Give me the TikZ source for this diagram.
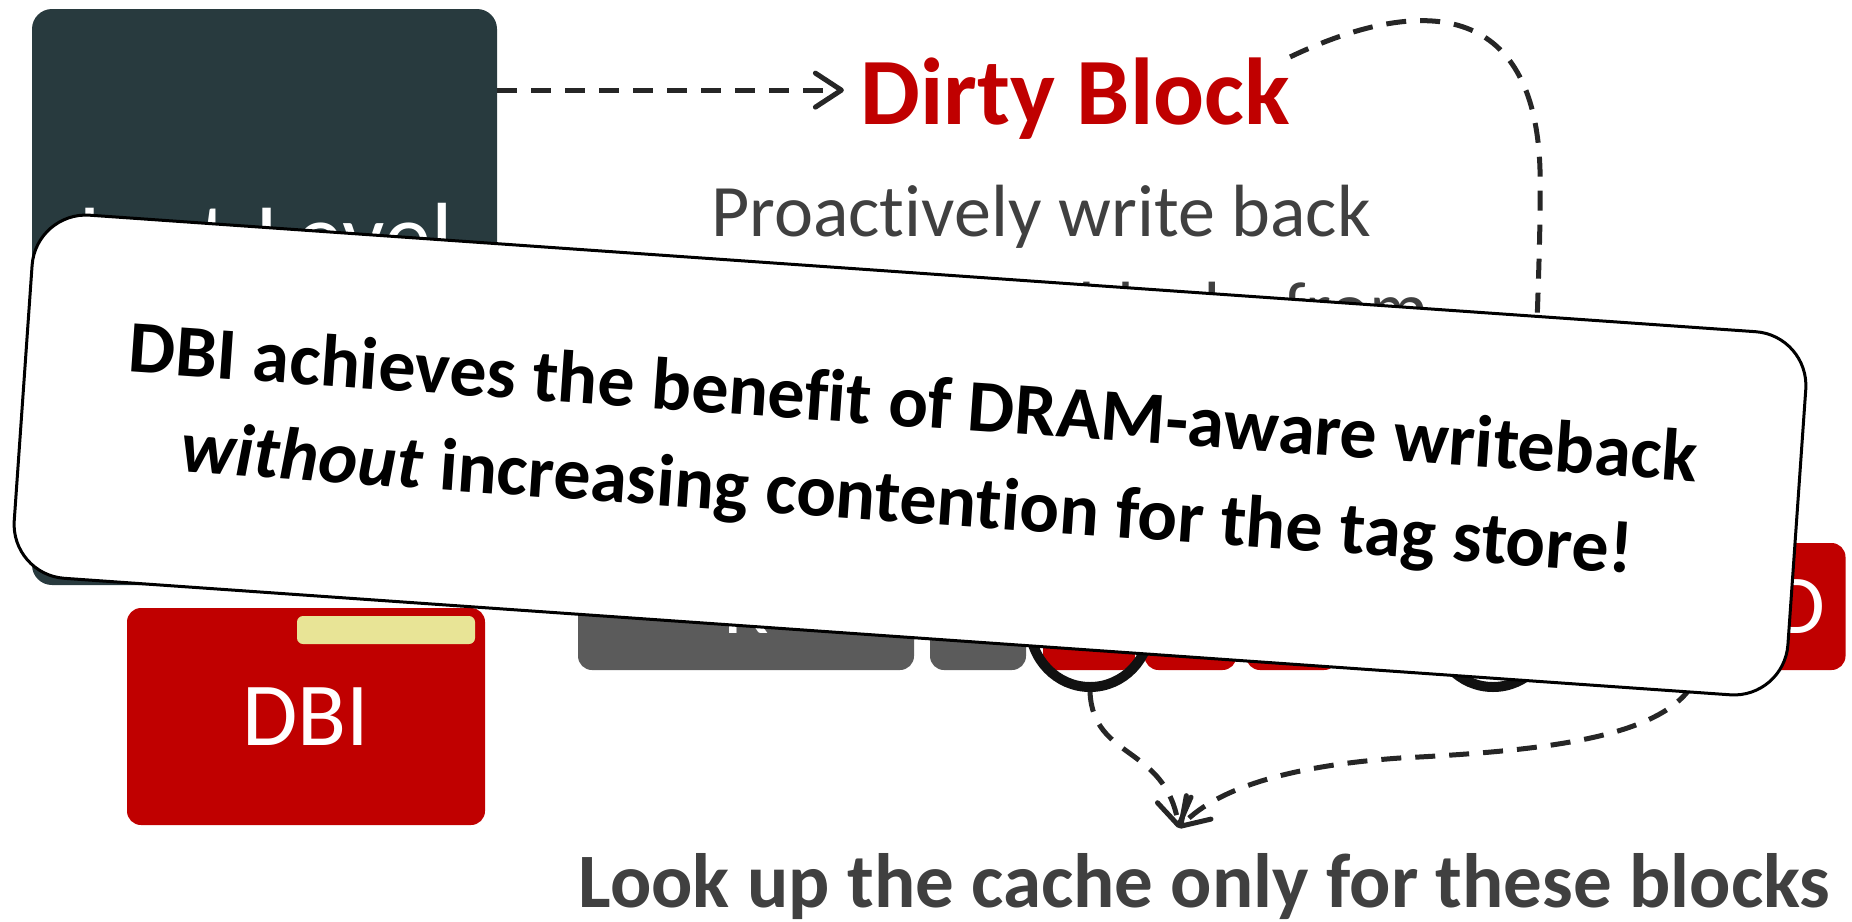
\documentclass[tikz,border=0pt]{standalone}
\usepackage{fontspec}
\setmainfont{Carlito}[Ligatures=NoCommon]
\usetikzlibrary{arrows.meta,shapes.geometric}
\definecolor{llcgray}{RGB}{40,58,62}
\definecolor{dbired}{RGB}{192,0,0}
\definecolor{txtgray}{RGB}{64,64,64}
\definecolor{blkgray}{RGB}{91,91,91}
\definecolor{barylw}{RGB}{232,228,150}
\definecolor{linegray}{RGB}{38,38,38}
\definecolor{ringblack}{RGB}{17,17,17}
\tikzset{
  conn/.style={draw=linegray, line width=2.5pt, dash pattern=on 10pt off 7pt},
  tipped/.style={-{Straight Barb[length=13pt,width=17pt,round]}},
  rowblk/.style={rounded corners=7pt, minimum height=63.5pt, inner sep=0pt,
    text=white, font=\fontsize{42}{50}\selectfont},
  grayblk/.style={rowblk, fill=blkgray},
  redblk/.style={rowblk, fill=dbired, minimum width=46pt},
  ring/.style={draw=ringblack, line width=5pt, ellipse, inner sep=0pt,
    minimum width=60pt, minimum height=62pt},
}
\begin{document}
\begin{tikzpicture}[x=0.5pt,y=-0.5pt]
\useasboundingbox (0,0) rectangle (1852,921);

% last-level cache
\node[fill=llcgray, rounded corners=10pt, minimum width=232.5pt,
  minimum height=288pt, inner sep=0pt] (llc) at (264.5,297) {};
\node[anchor=north, inner sep=0pt, text=white, align=center,
  font=\fontsize{47}{57}\selectfont] (llctext) at (266,203) {Last-Level\\Cache};

% dirty block and its description
\node[anchor=base, inner sep=0pt, text=dbired,
  font=\bfseries\fontsize{47.5}{57}\selectfont] (dirty) at (1075,124) {Dirty Block};
\node[anchor=north, inner sep=0pt, text=txtgray, align=center,
  font=\fontsize{37}{48.5}\selectfont] (desc) at (1041,185)
  {Proactively write back\\all other dirty blocks from\\the same DRAM row};

\coordinate (arrowy) at ([yshift=4pt]dirty.west);
\draw[conn, tipped] (llc.east |- arrowy) -- ([xshift=-8pt]arrowy);

\coordinate (dend) at (1534,430);
\draw[conn] (dirty.north east) .. controls (1420,-5) and (1535,0) .. (1540,170)
  .. controls (1541,240) and (1537,300) .. (dend);

% DRAM row
\node[grayblk, minimum width=168pt] (g1) at (746,606.5) {R};
\node[grayblk, minimum width=48pt] (g2) at (978,606.5) {};
\node[redblk] (r1) at (1089,606.5) {};
\node[redblk] (r2) at (1190.5,606.5) {};
\node[redblk] (r3) at (1292,606.5) {};
\node[redblk] (r4) at (1393.5,606.5) {};
\node[redblk] (r5) at (1495,606.5) {};
\node[redblk] (r8) at (1799.5,606.5) {D};

\node[ring] (c1) at (1090,625) {};
\node[ring] (c2) at (1493,625) {};

% dirty block index
\node[fill=dbired, rounded corners=7pt, minimum width=179pt, minimum height=108.5pt,
  inner sep=0pt, text=white, font=\fontsize{45}{54}\selectfont] (dbi) at (306,716.5) {DBI};
\node[fill=barylw, rounded corners=3pt, minimum width=89pt, minimum height=14pt,
  inner sep=0pt] (bitvec) at (386,630) {};

% lookups
\coordinate (tipc) at (1179,828);
\coordinate (rsrc) at (1702,655);
\draw[conn, tipped] (c1.south) .. controls (1093,760) and (1165,745) .. (tipc);
\draw[conn, tipped] (rsrc) .. controls (1697,735) and (1560,750) .. (1400,758)
  .. controls (1300,765) and (1220,785) .. (tipc);

\node[anchor=base, inner sep=0pt, text=txtgray,
  font=\bfseries\fontsize{38.5}{46}\selectfont] (lookup) at (1204.5,907)
  {Look up the cache only for these blocks};

% takeaway card
\node[draw=black, line width=1.5pt, fill=white, rounded corners=27pt,
  minimum width=889pt, minimum height=182pt, rotate=-4, align=center,
  text=black, font=\bfseries\fontsize{37}{48}\selectfont] (note) at (910,455)
  {DBI achieves the benefit of DRAM-aware writeback\\
   \textit{without} increasing contention for the tag store!};
\end{tikzpicture}
\end{document}
